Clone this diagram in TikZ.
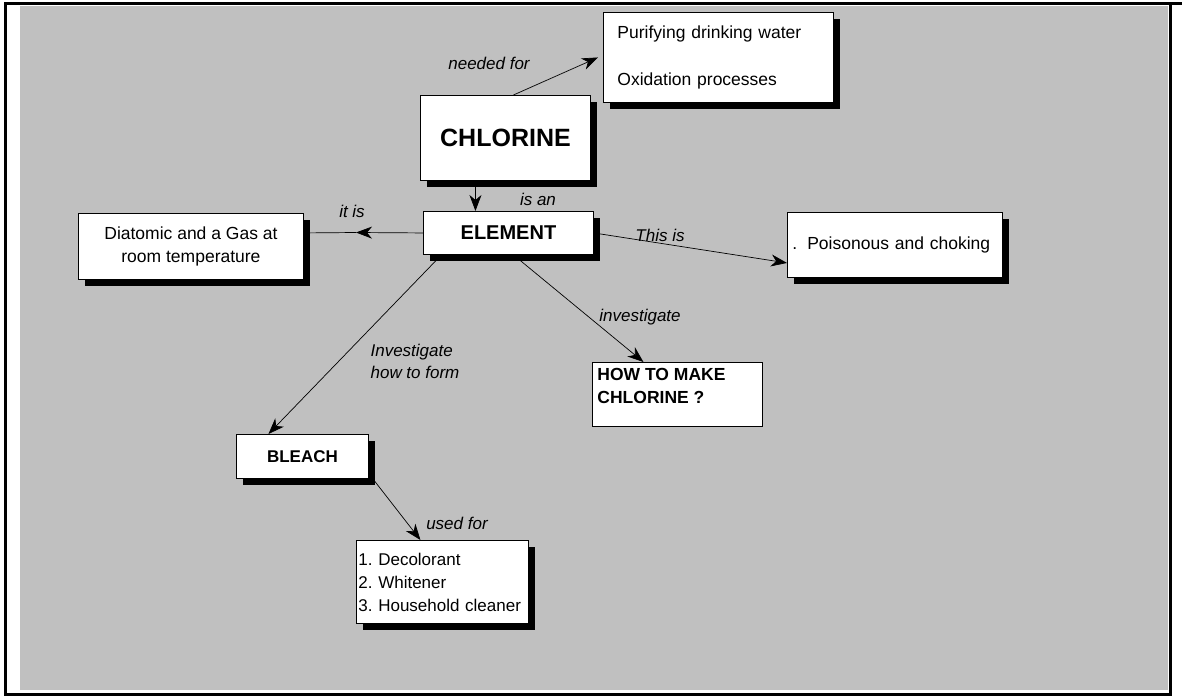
\documentclass[tikz,border=0pt]{standalone}
\usepackage{fontspec}
\setmainfont{Liberation Sans}
\usetikzlibrary{arrows.meta,shadows}
\pgfdeclarelayer{bg}\pgfdeclarelayer{edges}
\pgfsetlayers{bg,edges,main}
\definecolor{panel}{HTML}{C0C0C0}
\tikzset{
 box/.style={draw=black, line width=0.9pt, fill=white, rectangle, inner sep=0pt, anchor=north west,
   drop shadow={shadow xshift=7pt, shadow yshift=-7pt, fill=black, opacity=1}},
 plainbox/.style={draw=black, line width=0.9pt, fill=white, rectangle, inner sep=0pt, anchor=north west},
 txt/.style={font=\fontsize{17.5}{23}\selectfont},
 lbl/.style={font=\fontsize{17}{22}\selectfont\itshape, inner sep=0pt},
 arr/.style={-{Stealth[length=16pt,width=12pt,inset=5pt]}, line width=0.7pt},
 conn/.style={line width=0.7pt},
}
\begin{document}
\begin{tikzpicture}[x=1pt,y=-1pt]
\useasboundingbox (0,0) rectangle (1182,696);
\begin{pgfonlayer}{bg}
\fill[white] (0,0) rectangle (1182,696);
\fill[panel] (20,6) rectangle (1168,690);
\draw[line width=3pt] (5,3) rectangle (1170,694);
\draw[line width=3pt] (1170,3) -- (1182,3);
\end{pgfonlayer}

\node[box, minimum width=170pt, minimum height=85pt, font=\fontsize{25}{28}\selectfont\bfseries] (chl) at (420,95) {CHLORINE};
\node[box, minimum width=170pt, minimum height=43pt, font=\fontsize{20}{24}\selectfont\bfseries] (elem) at (423,211) {ELEMENT};
\node[box, minimum width=230pt, minimum height=90pt, txt, align=left, text width=202pt] (pur) at (603,12) {Purifying drinking water\\[24pt]Oxidation processes};
\node[box, minimum width=225pt, minimum height=66pt, txt, align=center] (dia) at (78,213) {Diatomic and a Gas at\\room temperature};
\node[box, minimum width=215pt, minimum height=65pt, txt, align=left, text width=205pt] (poi) at (787,212) {.\hspace{10pt}Poisonous and choking};
\node[plainbox, minimum width=170pt, minimum height=64pt, font=\fontsize{17.5}{23}\selectfont\bfseries] (how) at (592,362) {\parbox[c][64pt][t]{160pt}{\rule{0pt}{18pt}HOW TO MAKE\\CHLORINE ?}};
\node[box, minimum width=132pt, minimum height=44pt, font=\fontsize{17}{20}\selectfont\bfseries] (bl) at (236,434) {BLEACH};
\node[box, minimum width=172pt, minimum height=83pt, font=\fontsize{17}{23}\selectfont, align=left, text width=168pt] (lst) at (356,540) {1.\ Decolorant\\2.\ Whitener\\3.\ Household cleaner};

\node[lbl] (lneed) at (489,63) {needed for};
\node[lbl] (lisan) at (538,199) {is an};
\node[lbl] (litis) at (352,211) {it is};
\node[lbl] (lthis) at (660,235) {This is};
\node[lbl] (linv) at (640,317) {investigate};
\node[lbl, align=left] (lform) at (415,361) {Investigate\\how to form};
\node[lbl] (lused) at (457,523) {used for};

\coordinate (itis) at (356,232.5);
\begin{pgfonlayer}{edges}
\draw[arr] ([xshift=8pt]chl.north) -- ([xshift=-5pt]pur.west);
\draw[arr] ([xshift=-30pt]chl.south) -- ([xshift=-30pt]chl.south |- elem.north);
\draw[arr] (elem.west) -- (itis);
\draw[conn] (itis) -- (elem.west -| dia.east);
\draw[arr] (elem.east) -- ([yshift=-18pt]poi.west);
\draw[arr] ([xshift=5pt]elem.south) -- ([xshift=-34pt]how.north);
\draw[arr] ([xshift=-67pt]elem.south) -- ([xshift=-34pt]bl.north);
\draw[arr] ([xshift=4pt]bl.south east) -- ([xshift=-22pt]lst.north);
\end{pgfonlayer}
\end{tikzpicture}
\end{document}
